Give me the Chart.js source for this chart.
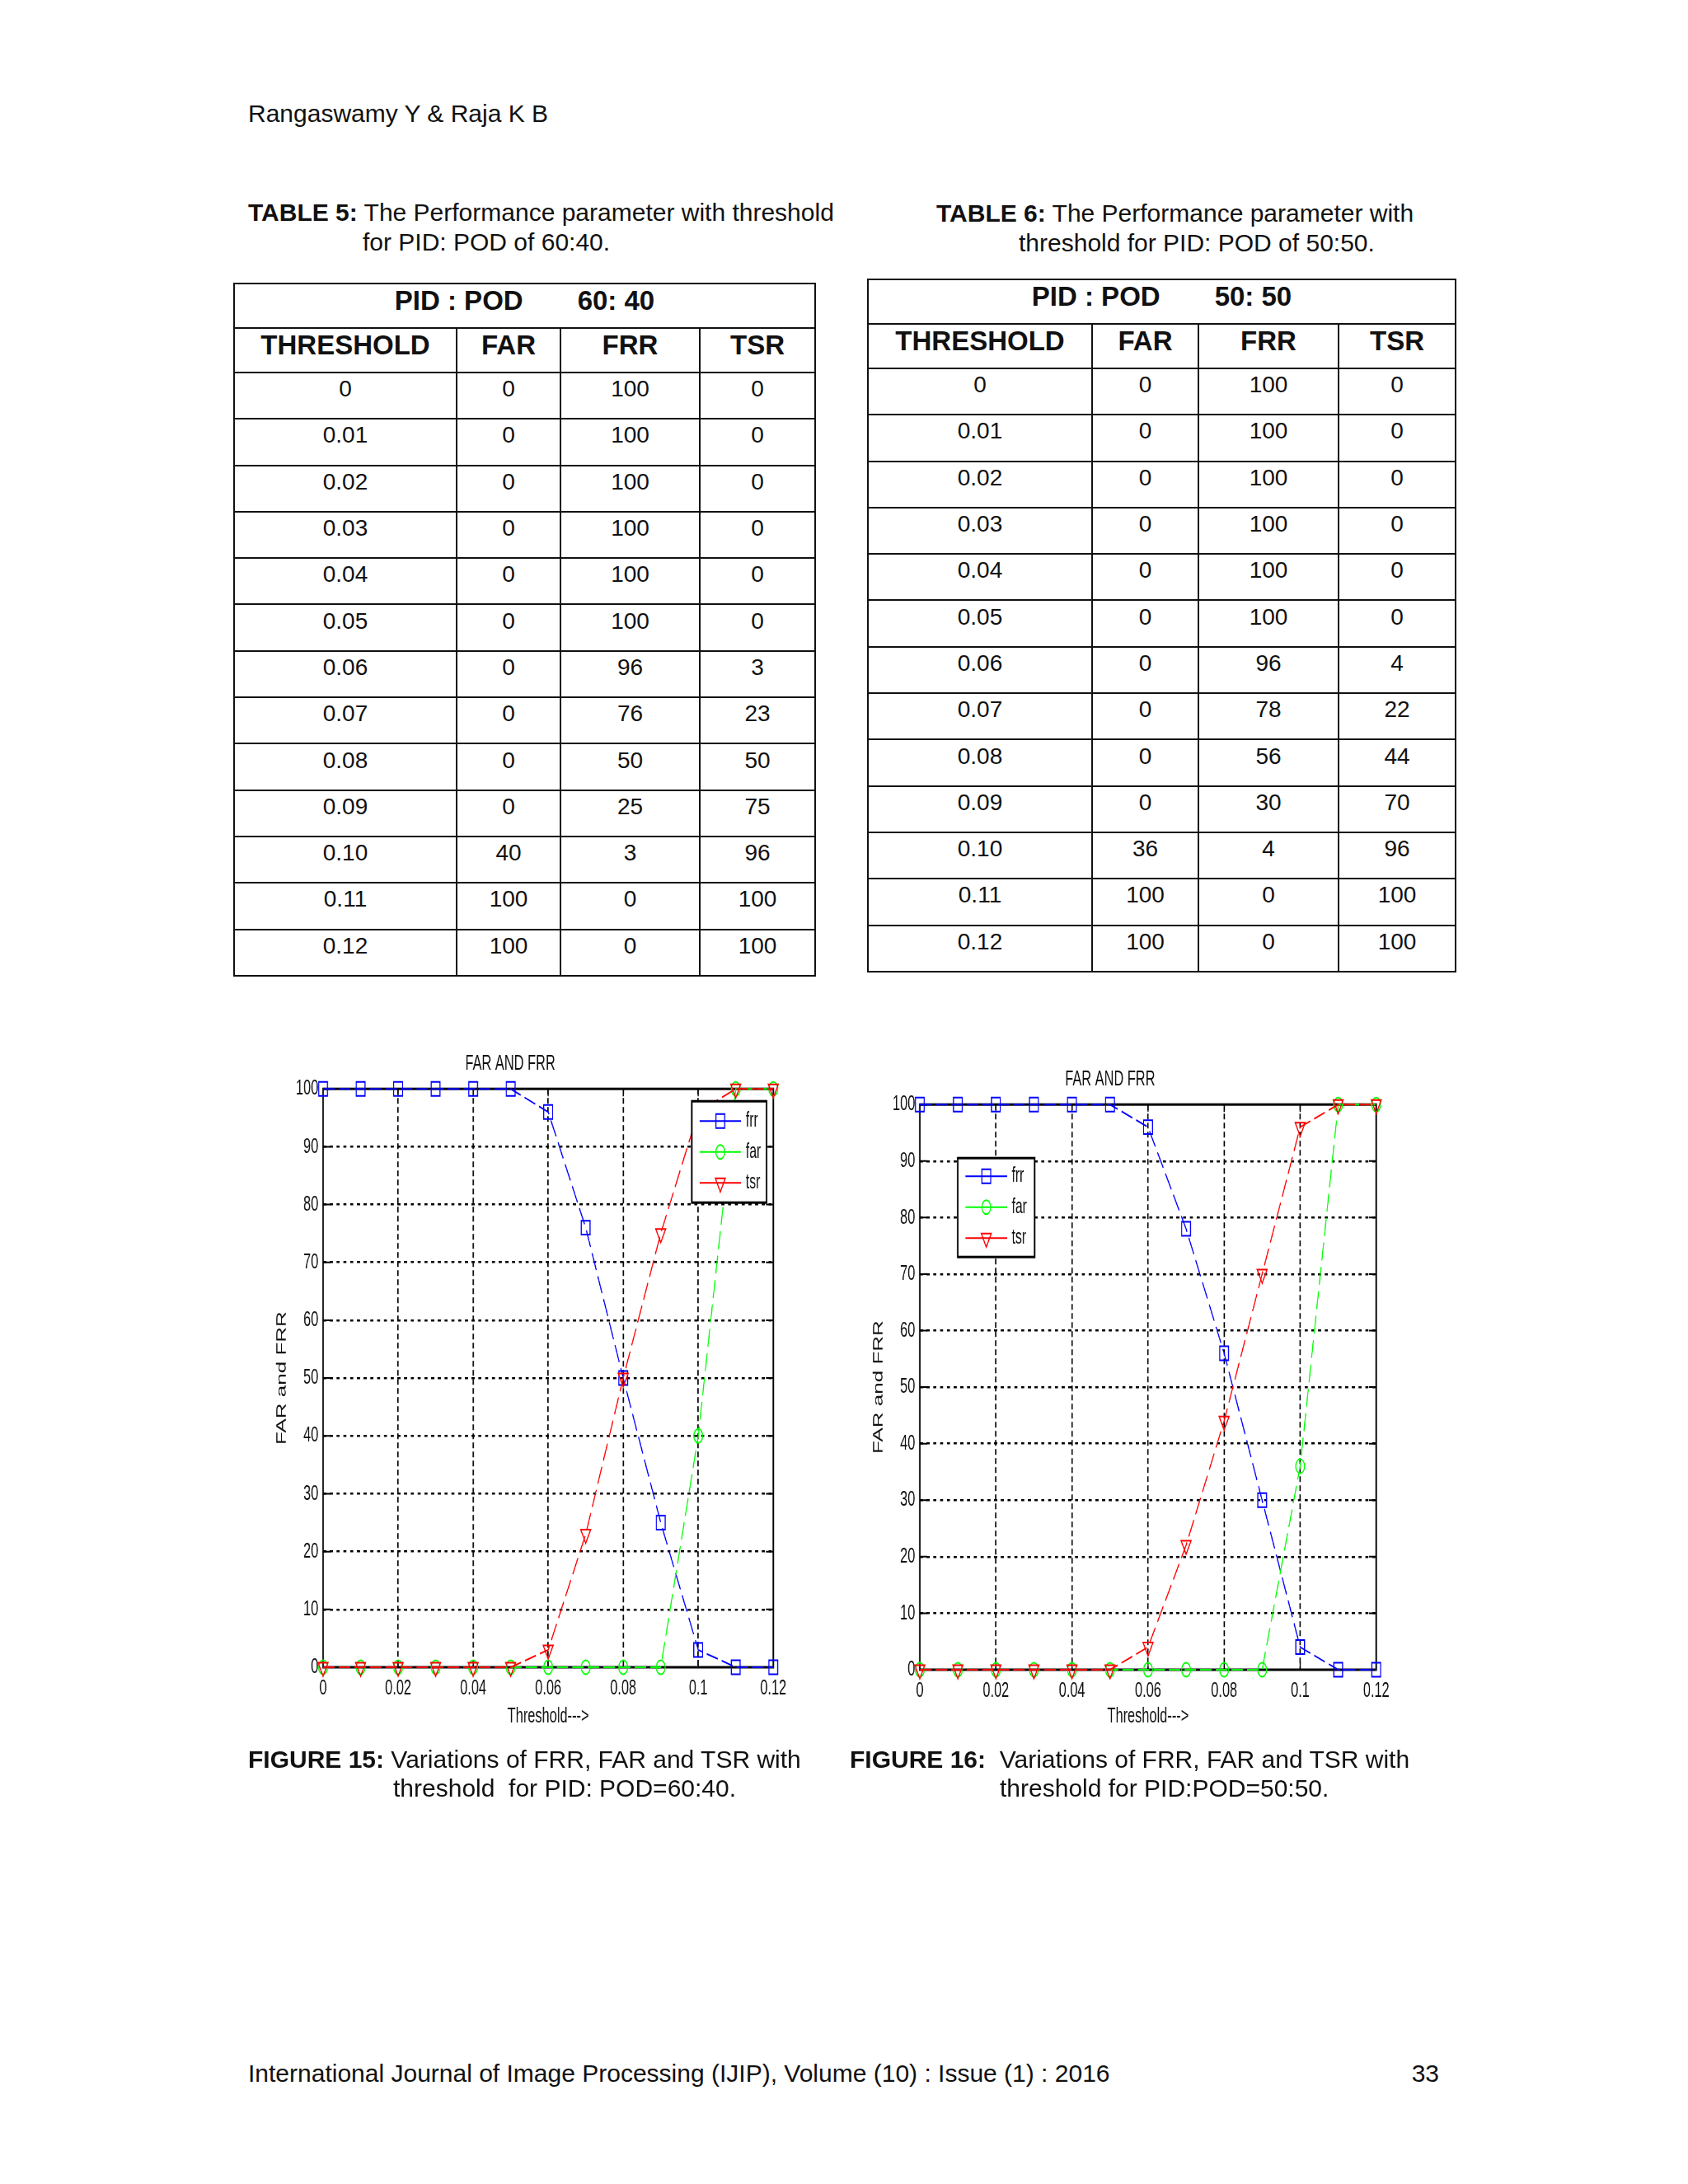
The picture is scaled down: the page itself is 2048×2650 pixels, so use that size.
<!DOCTYPE html>
<html>
<head>
<meta charset="utf-8">
<script src="https://cdn.jsdelivr.net/npm/chart.js@4.4.0/dist/chart.umd.min.js"></script>
<style>
  html, body { margin: 0; padding: 0; background: #fff; }
  body { width: 2048px; height: 2650px; position: relative; overflow: hidden;
         font-family: "Liberation Sans", Arial, Helvetica, sans-serif; color: #111; }
  .txt { position: absolute; font-size: 30px; line-height: 36px; white-space: pre; }
  table.perf { position: absolute; border-collapse: collapse; table-layout: fixed; }
  table.perf td { border: 2px solid #111; text-align: center; padding: 0; vertical-align: middle; }
  table.perf tr.ttl td, table.perf tr.hdr td { font-size: 33px; font-weight: bold; padding-bottom: 13px; }
  table.perf tr.ttl { height: 54px; }
  table.perf tr.hdr { height: 54px; }
  table.perf tr.row { height: 56.3px; }
  table.perf tr.row td { font-size: 28px; line-height: 32px; padding-bottom: 16px; }
  table.perf .gap { display: inline-block; width: 66px; }
  canvas.fig { position: absolute; transform-origin: 0 0; transform: scaleX(0.63); }
</style>
</head>
<body>

<div class="txt" style="left:301px; top:120px;">Rangaswamy Y &amp; Raja K B</div>

<div class="txt" style="left:301px; top:240px;"><b>TABLE 5:</b> The Performance parameter with threshold</div>
<div class="txt" style="left:440px; top:276px;">for PID: POD of 60:40.</div>
<div class="txt" style="left:1136px; top:241px;"><b>TABLE 6:</b> The Performance parameter with</div>
<div class="txt" style="left:1236px; top:277px;">threshold for PID: POD of 50:50.</div>

<canvas id="fig15" class="fig" width="1053" height="870" style="left:300px; top:1250px;"></canvas>
<canvas id="fig16" class="fig" width="1065" height="854" style="left:1024px; top:1269px;"></canvas>

<div class="txt" style="left:301px; top:2117px;"><b>FIGURE 15:</b> Variations of FRR, FAR and TSR with</div>
<div class="txt" style="left:477px; top:2152px;">threshold  for PID: POD=60:40.</div>
<div class="txt" style="left:1031px; top:2117px;"><b>FIGURE 16:</b>  Variations of FRR, FAR and TSR with</div>
<div class="txt" style="left:1213px; top:2152px;">threshold for PID:POD=50:50.</div>

<div class="txt" style="left:301px; top:2498px;">International Journal of Image Processing (IJIP), Volume (10) : Issue (1) : 2016</div>
<div class="txt" style="left:1646px; top:2498px; width:100px; text-align:right;">33</div>

<script>
// Data
const thresholds = [0, 0.01, 0.02, 0.03, 0.04, 0.05, 0.06, 0.07, 0.08, 0.09, 0.10, 0.11, 0.12];
const thresholdLabels = ['0', '0.01', '0.02', '0.03', '0.04', '0.05', '0.06', '0.07', '0.08', '0.09', '0.10', '0.11', '0.12'];
const tableHeaders = ['THRESHOLD', 'FAR', 'FRR', 'TSR'];

// PID : POD 60:40
const far6040 = [0, 0, 0, 0, 0, 0, 0, 0, 0, 0, 40, 100, 100];
const frr6040 = [100, 100, 100, 100, 100, 100, 96, 76, 50, 25, 3, 0, 0];
const tsr6040 = [0, 0, 0, 0, 0, 0, 3, 23, 50, 75, 96, 100, 100];

// PID : POD 50:50
const far5050 = [0, 0, 0, 0, 0, 0, 0, 0, 0, 0, 36, 100, 100];
const frr5050 = [100, 100, 100, 100, 100, 100, 96, 78, 56, 30, 4, 0, 0];
const tsr5050 = [0, 0, 0, 0, 0, 0, 4, 22, 44, 70, 96, 100, 100];

// Axis ticks
const xTickValues = [0, 0.02, 0.04, 0.06, 0.08, 0.1, 0.12];
const xTickLabels = ['0', '0.02', '0.04', '0.06', '0.08', '0.1', '0.12'];
const yTickValues = [0, 10, 20, 30, 40, 50, 60, 70, 80, 90, 100];
const yTickLabels = ['0', '10', '20', '30', '40', '50', '60', '70', '80', '90', '100'];

const FONT = '"Liberation Sans", Arial, Helvetica, sans-serif';
const INK = '#111';

// Tables
const buildTable = (left, top, colWidths, ratioText, far, frr, tsr) => {
    const table = document.createElement('table');
    table.className = 'perf';
    table.style.left = left + 'px';
    table.style.top = top + 'px';
    table.style.width = colWidths.reduce((a, b) => a + b, 0) + 'px';
    let html = '<colgroup>' + colWidths.map((w) => `<col style="width:${w}px">`).join('') + '</colgroup>';
    html += `<tr class="ttl"><td colspan="4">PID : POD<span class="gap"></span>${ratioText}</td></tr>`;
    html += '<tr class="hdr">' + tableHeaders.map((h) => `<td>${h}</td>`).join('') + '</tr>';
    thresholdLabels.forEach((lab, i) => {
        html += `<tr class="row"><td>${lab}</td><td>${far[i]}</td><td>${frr[i]}</td><td>${tsr[i]}</td></tr>`;
    });
    table.innerHTML = html;
    document.body.appendChild(table);
};

buildTable(283, 343, [270, 126, 169, 140], '60: 40', far6040, frr6040, tsr6040);
buildTable(1052, 338, [272, 129, 170, 142], '50: 50', far5050, frr5050, tsr5050);

// Markers (hollow, matlab style)
const drawMarker = (ctx, ds, x, y) => {
    const r = ds.pointRadius;
    ctx.beginPath();
    if (ds.pointStyle === 'rect') {
        const s = r * Math.SQRT1_2;
        ctx.rect(x - s, y - s, 2 * s, 2 * s);
    } else if (ds.pointStyle === 'circle') {
        ctx.arc(x, y, r, 0, Math.PI * 2);
    } else {
        ctx.moveTo(x, y + r);
        ctx.lineTo(x - r * Math.sin(Math.PI / 3), y - r / 2);
        ctx.lineTo(x + r * Math.sin(Math.PI / 3), y - r / 2);
        ctx.closePath();
    }
    ctx.lineWidth = ds.pointBorderWidth;
    ctx.strokeStyle = ds.borderColor;
    ctx.stroke();
};

// Axes box + inward tick marks
const axesFrame = {
    id: 'axesFrame',
    beforeDatasetsDraw(chart) {
        const { ctx, chartArea: a, scales } = chart;
        ctx.save();
        ctx.setLineDash([]);
        ctx.strokeStyle = '#000';
        ctx.lineWidth = 3;
        ctx.strokeRect(a.left, a.top, a.right - a.left, a.bottom - a.top);
        ctx.lineWidth = 2;
        ctx.beginPath();
        scales.x.ticks.forEach((t) => {
            const px = scales.x.getPixelForValue(t.value);
            ctx.moveTo(px, a.bottom); ctx.lineTo(px, a.bottom - 9);
            ctx.moveTo(px, a.top); ctx.lineTo(px, a.top + 9);
        });
        scales.y.ticks.forEach((t) => {
            const py = scales.y.getPixelForValue(t.value);
            ctx.moveTo(a.left, py); ctx.lineTo(a.left + 14, py);
            ctx.moveTo(a.right, py); ctx.lineTo(a.right - 14, py);
        });
        ctx.stroke();
        ctx.restore();
    },
};

// Legend box inside the axes
const boxLegend = {
    id: 'boxLegend',
    afterDatasetsDraw(chart, args, opts) {
        const { ctx, chartArea: a } = chart;
        const x0 = opts.side === 'right' ? a.right - opts.dx - opts.w : a.left + opts.dx;
        const y0 = a.top + opts.dy;
        ctx.save();
        ctx.setLineDash([]);
        ctx.fillStyle = '#fff';
        ctx.fillRect(x0, y0, opts.w, opts.h);
        ctx.strokeStyle = '#000';
        ctx.lineWidth = 3;
        ctx.strokeRect(x0, y0, opts.w, opts.h);
        chart.data.datasets.forEach((ds, i) => {
            const y = y0 + opts.firstRow + i * opts.rowGap;
            ctx.strokeStyle = ds.borderColor;
            ctx.lineWidth = 2;
            ctx.beginPath();
            ctx.moveTo(x0 + 15, y);
            ctx.lineTo(x0 + 95, y);
            ctx.stroke();
            drawMarker(ctx, ds, x0 + 55, y);
            ctx.fillStyle = INK;
            ctx.font = `25px ${FONT}`;
            ctx.textAlign = 'left';
            ctx.textBaseline = 'middle';
            ctx.fillText(ds.label, x0 + 104, y);
        });
        ctx.restore();
    },
};

const makeSeries = (label, values, color, style, radius, order) => ({
    label,
    data: thresholds.map((t, i) => ({ x: t, y: values[i] })),
    borderColor: color,
    backgroundColor: 'transparent',
    borderWidth: 2,
    borderDash: [22, 8],
    pointStyle: style,
    pointRadius: radius,
    pointHoverRadius: radius,
    pointRotation: style === 'triangle' ? 180 : 0,
    pointBorderColor: color,
    pointBackgroundColor: 'transparent',
    pointBorderWidth: 2,
    tension: 0,
    clip: false,
    order,
});

const buildFigure = (canvasId, frr, far, tsr, cfg) => {
    const ctx = document.getElementById(canvasId).getContext('2d');
    // eslint-disable-next-line no-new
    new Chart(ctx, {
        type: 'line',
        data: {
            datasets: [
                makeSeries('frr', frr, '#0000ff', 'rect', 12, 3),
                makeSeries('far', far, '#00ff00', 'circle', 8.5, 2),
                makeSeries('tsr', tsr, '#ff0000', 'triangle', 11, 1),
            ],
        },
        options: {
            responsive: false,
            animation: false,
            devicePixelRatio: 1,
            events: [],
            layout: { padding: { left: 0, right: 40, top: 0, bottom: 0 } },
            plugins: {
                legend: { display: false },
                tooltip: { enabled: false },
                title: {
                    display: true,
                    text: 'FAR AND FRR',
                    color: INK,
                    font: { size: 26, weight: 'normal', family: FONT },
                    padding: { top: 25, bottom: 15 },
                },
                boxLegend: cfg.legend,
            },
            scales: {
                x: {
                    type: 'linear',
                    min: 0,
                    max: 0.12,
                    afterBuildTicks: (s) => { s.ticks = xTickValues.map((v) => ({ value: v })); },
                    afterFit: (s) => { s.height = cfg.xAxisHeight; },
                    ticks: {
                        callback: (v, i) => xTickLabels[i],
                        padding: 10,
                        color: INK,
                        autoSkip: false,
                        maxRotation: 0,
                        font: { size: 26, family: FONT },
                    },
                    grid: {
                        color: (c) => (c.index === 0 || c.index === xTickValues.length - 1 ? 'rgba(0,0,0,0)' : '#000'),
                        lineWidth: 2.5,
                        drawTicks: false,
                        borderDash: [7, 4],
                    },
                    border: { display: false, dash: [7, 4] },
                    title: {
                        display: true,
                        text: 'Threshold--->',
                        color: INK,
                        font: { size: 26, family: FONT },
                        padding: { top: 0, bottom: cfg.xTitlePad },
                    },
                },
                y: {
                    type: 'linear',
                    min: 0,
                    max: 100,
                    afterBuildTicks: (s) => { s.ticks = yTickValues.map((v) => ({ value: v })); },
                    afterFit: (s) => { s.width = 146; },
                    ticks: {
                        callback: (v, i) => yTickLabels[i],
                        padding: 9,
                        color: INK,
                        autoSkip: false,
                        font: { size: 26, family: FONT },
                    },
                    grid: {
                        color: (c) => (c.index === 0 || c.index === yTickValues.length - 1 ? 'rgba(0,0,0,0)' : '#000'),
                        lineWidth: 2.5,
                        drawTicks: false,
                        borderDash: [6, 7],
                    },
                    border: { display: false, dash: [6, 7] },
                    title: {
                        display: true,
                        text: 'FAR and FRR',
                        color: INK,
                        font: { size: 26, family: FONT },
                        padding: { top: 51, bottom: 0 },
                    },
                },
            },
        },
        plugins: [axesFrame, boxLegend],
    });
};

buildFigure('fig15', frr6040, far6040, tsr6040, {
    xAxisHeight: 97,
    xTitlePad: 22,
    legend: { side: 'right', dx: 13, dy: 15, w: 144, h: 123, firstRow: 24, rowGap: 37.5 },
});

buildFigure('fig16', frr5050, far5050, tsr5050, {
    xAxisHeight: 97,
    xTitlePad: 25,
    legend: { side: 'left', dx: 73, dy: 65, w: 148, h: 120, firstRow: 22, rowGap: 37.5 },
});
</script>
</body>
</html>
